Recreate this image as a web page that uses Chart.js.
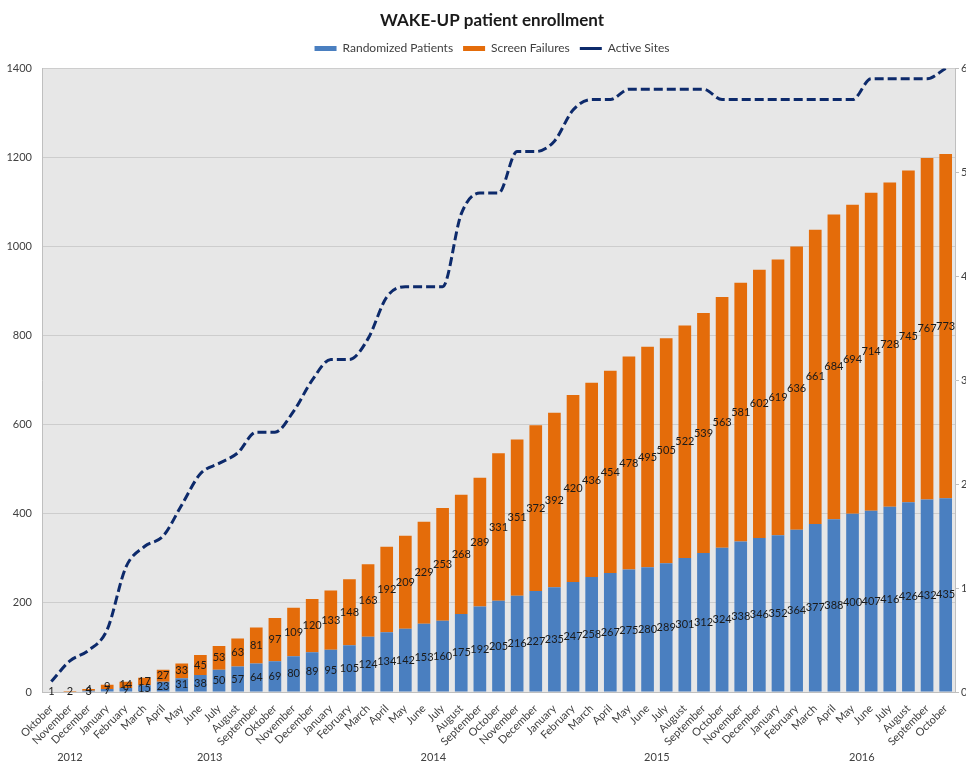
<!DOCTYPE html>
<html>
<head>
<meta charset="utf-8">
<script src="https://cdn.jsdelivr.net/npm/chart.js@4.4.1/dist/chart.umd.min.js"></script>
<style>
  html, body { margin: 0; padding: 0; overflow: hidden; background: #fff; }
</style>
</head>
<body>
<canvas id="grafico" width="984" height="761"></canvas>
<script>
// month labels, Oct 2012 .. Oct 2016
const meses = [
  'Oktober', 'November', 'December',
  'January', 'February', 'March', 'April', 'May', 'June', 'July', 'August', 'September', 'Oktober', 'November', 'December',
  'January', 'February', 'March', 'April', 'May', 'June', 'July', 'August', 'September', 'October', 'November', 'December',
  'January', 'February', 'March', 'April', 'May', 'June', 'July', 'August', 'September', 'October', 'November', 'December',
  'January', 'February', 'March', 'April', 'May', 'June', 'July', 'August', 'September', 'October'
];
const anos = ['2012', '2013', '2014', '2015', '2016'];
const mesesPorAno = [3, 12, 12, 12, 10];

const randomizados = [
  null, null, 3,
  7, 9, 15, 23, 31, 38, 50, 57, 64, 69, 80, 89,
  95, 105, 124, 134, 142, 153, 160, 175, 192, 205, 216, 227,
  235, 247, 258, 267, 275, 280, 289, 301, 312, 324, 338, 346,
  352, 364, 377, 388, 400, 407, 416, 426, 432, 435
];
const falhas = [
  1, 2, 4,
  9, 14, 17, 27, 33, 45, 53, 63, 81, 97, 109, 120,
  133, 148, 163, 192, 209, 229, 253, 268, 289, 331, 351, 372,
  392, 420, 436, 454, 478, 495, 505, 522, 539, 563, 581, 602,
  619, 636, 661, 684, 694, 714, 728, 745, 767, 773
];
const centros = [
  1, 3, 4,
  6, 12, 14, 15, 18, 21, 22, 23, 25, 25, 27, 30,
  32, 32, 34, 38, 39, 39, 39, 46, 48, 48, 52, 52,
  53, 56, 57, 57, 58, 58, 58, 58, 58, 57, 57, 57,
  57, 57, 57, 57, 57, 59, 59, 59, 59, 60
];

const fonte = 'Lato';
const corTexto = '#404040';

// grey plot area
const fundo = {
  id: 'fundo',
  afterInit(chart) {
    // a bit more room under the legend
    const fitOriginal = chart.legend.fit;
    chart.legend.fit = function () {
      fitOriginal.call(this);
      this.height += 4;
    };
  },
  beforeDraw(chart) {
    const { ctx, chartArea: a } = chart;
    ctx.save();
    ctx.fillStyle = '#fff';
    ctx.fillRect(0, 0, chart.width, chart.height);
    ctx.fillStyle = '#e7e7e7';
    ctx.fillRect(a.left, a.top, a.right - a.left, a.bottom - a.top);
    ctx.restore();
  }
};

// numbers in the middle of each bar segment
const rotulos = {
  id: 'rotulos',
  afterDatasetsDraw(chart) {
    const ctx = chart.ctx;
    ctx.save();
    ctx.font = '11px ' + fonte;
    ctx.fillStyle = '#1a1a1a';
    ctx.textAlign = 'center';
    ctx.textBaseline = 'middle';
    [0, 1].forEach(i => {
      chart.getDatasetMeta(i).data.forEach((barra, j) => {
        const v = chart.data.datasets[i].data[j];
        if (!v) return;
        const p = barra.getProps(['x', 'y', 'base'], true);
        ctx.fillText(v, p.x, (p.y + p.base) / 2);
      });
    });
    ctx.restore();
  }
};

// year row under the month labels
const linhaAnos = {
  id: 'linhaAnos',
  afterDraw(chart) {
    const ctx = chart.ctx;
    const x = chart.scales.x;
    ctx.save();
    ctx.font = '11px ' + fonte;
    ctx.fillStyle = corTexto;
    ctx.textAlign = 'center';
    ctx.textBaseline = 'middle';
    let inicio = 0;
    anos.forEach((ano, k) => {
      const fim = inicio + mesesPorAno[k] - 1;
      const meio = (x.getPixelForValue(inicio) + x.getPixelForValue(fim)) / 2;
      ctx.fillText(ano, meio, 757);
      inicio = fim + 1;
    });
    ctx.restore();
  }
};

const grafico = new Chart(document.getElementById('grafico'), {
  type: 'bar',
  data: {
    labels: meses,
    datasets: [{
      label: 'Randomized Patients',
      data: randomizados,
      backgroundColor: '#4a7fc0',
      pointStyle: 'rect',
      yAxisID: 'y',
      order: 1,
      categoryPercentage: 1,
      barPercentage: 0.68
    }, {
      label: 'Screen Failures',
      data: falhas,
      backgroundColor: '#e46c0a',
      pointStyle: 'rect',
      yAxisID: 'y',
      order: 1,
      categoryPercentage: 1,
      barPercentage: 0.68
    }, {
      type: 'line',
      label: 'Active Sites',
      data: centros,
      yAxisID: 'y2',
      order: 0,
      borderColor: '#0d2a6b',
      backgroundColor: '#0d2a6b',
      borderWidth: 3,
      borderDash: [9, 4],
      pointRadius: 0,
      pointStyle: 'line',
      cubicInterpolationMode: 'monotone',
      fill: false
    }]
  },
  options: {
    responsive: false,
    animation: false,
    layout: { padding: 0 },
    plugins: {
      title: {
        display: true,
        text: 'WAKE-UP patient enrollment',
        color: '#1a1a1a',
        font: { family: fonte, size: 17, weight: 'bold' },
        padding: { top: 10, bottom: 2 }
      },
      legend: {
        labels: {
          usePointStyle: true,
          pointStyleWidth: 22,
          boxWidth: 22,
          boxHeight: 5,
          padding: 10,
          color: corTexto,
          font: { family: fonte, size: 12 },
          sort: (a, b) => a.datasetIndex - b.datasetIndex
        }
      },
      tooltip: { enabled: false }
    },
    scales: {
      x: {
        stacked: true,
        grid: { display: false },
        border: { color: '#bfbfbf' },
        ticks: {
          autoSkip: false,
          minRotation: 45,
          maxRotation: 45,
          padding: 2,
          color: corTexto,
          font: { family: fonte, size: 11 }
        },
        afterFit(s) { s.height = 69; s.paddingLeft = 0; s.paddingRight = 0; }
      },
      y: {
        stacked: true,
        position: 'left',
        min: 0,
        max: 1400,
        grid: { color: '#cdcdcd', drawTicks: false },
        border: { color: '#bfbfbf' },
        ticks: {
          stepSize: 200,
          padding: 10,
          color: corTexto,
          font: { family: fonte, size: 11 },
          callback: v => String(v)
        },
        afterFit(s) { s.width = 42; }
      },
      y2: {
        position: 'right',
        min: 0,
        max: 60,
        grid: { drawOnChartArea: false, tickLength: 4, color: '#bfbfbf' },
        border: { color: '#bfbfbf' },
        ticks: {
          stepSize: 10,
          padding: 2,
          color: corTexto,
          font: { family: fonte, size: 11 },
          callback: v => String(v)
        },
        afterFit(s) { s.width = 29; }
      }
    }
  },
  plugins: [fundo, rotulos, linhaAnos]
});
</script>
</body>
</html>
